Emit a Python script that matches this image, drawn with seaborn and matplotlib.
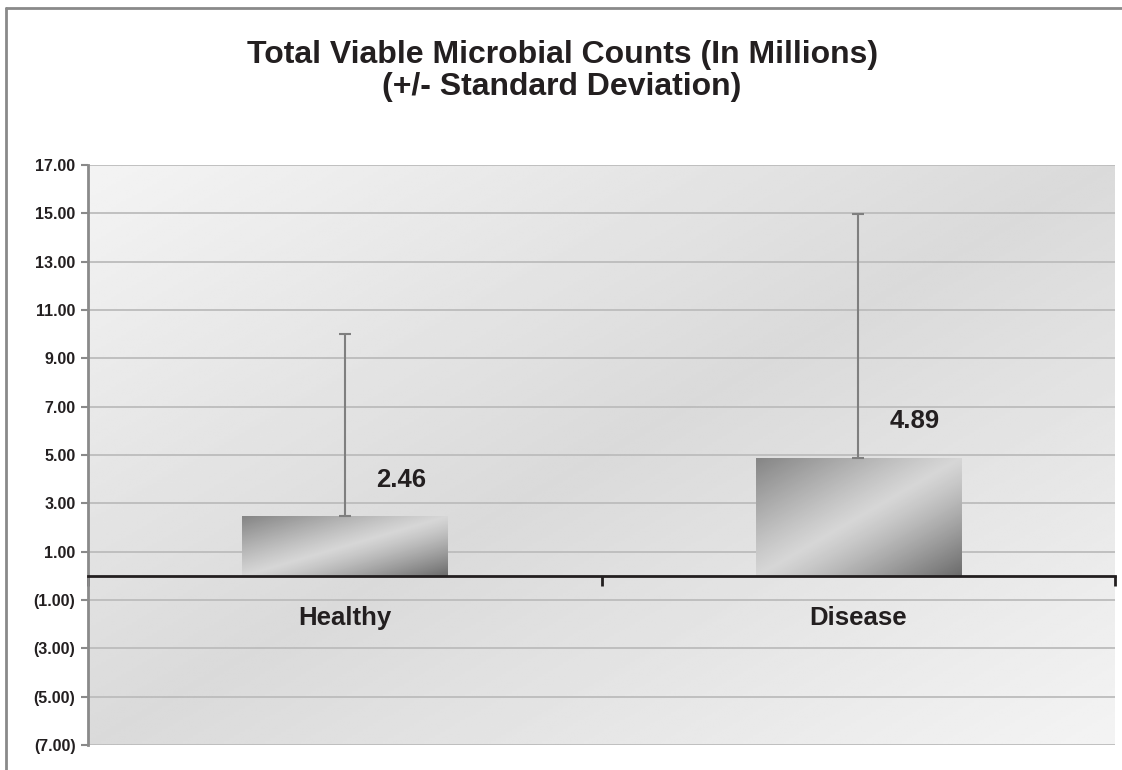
import numpy as np
import pandas as pd
import matplotlib
matplotlib.use('Agg')
import matplotlib.pyplot as plt
import seaborn as sns
from matplotlib.lines import Line2D
from matplotlib.ticker import FuncFormatter, FixedLocator

groups = ['Healthy', 'Disease']
means = [2.46, 4.89]
sds = [7.55, 10.08]
yticks = [-7, -5, -3, -1, 1, 3, 5, 7, 9, 11, 13, 15, 17]

df = pd.DataFrame({'group': groups, 'mean': means})

sns.set_theme(style='white')
plt.rcParams['font.family'] = ['Liberation Sans', 'DejaVu Sans']
plt.rcParams['font.weight'] = 'bold'

fig = plt.figure(figsize=(11.22, 7.7), dpi=100)
ax = fig.add_axes([88/1122, 25/770, 1027/1122, 580/770])

# plot area background: diagonal grey shading
yy, xx = np.mgrid[0:1:200j, 0:1:200j]
d = xx + (1 - yy)
bg = 0.955 - 0.10 * (1 - np.abs(d - 1))
ax.imshow(bg, cmap='gray', vmin=0, vmax=1, extent=(0, 1, 0, 1),
          transform=ax.transAxes, origin='lower', aspect='auto', zorder=0,
          interpolation='bilinear')

sns.barplot(data=df, x='group', y='mean', color='#b0b0b0', width=0.4,
            errorbar=None, ax=ax, zorder=1, linewidth=0)

# gradient fill for each bar
for p in ax.patches:
    x0, y0 = p.get_x(), p.get_y()
    w, h = p.get_width(), p.get_height()
    v, u = np.mgrid[0:1:100j, 0:1:100j]
    dd = u + (1 - v)
    g = np.where(dd < 1, 0.84 - 0.32 * (1 - dd) ** 1.1, 0.84 - 0.42 * (dd - 1) ** 1.2)
    im = ax.imshow(g, cmap='gray', vmin=0, vmax=1, extent=(x0, x0 + w, y0, y0 + h),
                   origin='lower', aspect='auto', zorder=1.5, interpolation='bilinear')
    im.set_clip_path(p)

ax.errorbar(x=[0, 1], y=means, yerr=[[0, 0], sds], fmt='none', ecolor='#7f7f7f',
            elinewidth=1.5, capsize=4, capthick=1.5, zorder=3)

for i, m in enumerate(means):
    ax.text(i + 0.11, m + 1.5, f'{m:.2f}', ha='center', va='center',
            fontsize=18.5, fontweight='bold', color='#231f20', zorder=4)

ax.set_xlim(-0.5, 1.5)
ax.set_ylim(-7, 17)
ax.yaxis.set_major_locator(FixedLocator(yticks))
ax.yaxis.set_major_formatter(FuncFormatter(lambda v, _: f'({abs(v):.2f})' if v < 0 else f'{v:.2f}'))
ax.set_axisbelow(True)
ax.yaxis.grid(True, color='#bcbcbc', linewidth=1.3)
ax.xaxis.grid(False)
ax.set_xlabel('')
ax.set_ylabel('')

for s in ['top', 'right']:
    ax.spines[s].set_visible(False)
ax.spines['left'].set_color('#8a8a8a')
ax.spines['left'].set_linewidth(2)
ax.spines['bottom'].set_position(('data', 0))
ax.spines['bottom'].set_color('#231f20')
ax.spines['bottom'].set_linewidth(2)
ax.spines['bottom'].set_zorder(5)

ax.tick_params(axis='y', which='major', direction='out', length=5, width=1.5,
               color='#8a8a8a', labelsize=11.5, labelcolor='#231f20', pad=4, left=True)
ax.set_xticks([-0.5, 0.5, 1.5], minor=True)
ax.tick_params(axis='x', which='minor', direction='out', length=7, width=2,
               color='#231f20', bottom=True)
ax.tick_params(axis='x', which='major', length=0, labelsize=18.5,
               labelcolor='#231f20', pad=22)
for lab in ax.get_xticklabels() + ax.get_yticklabels():
    lab.set_fontweight('bold')

fig.text(0.501, 1 - 71/770, 'Total Viable Microbial Counts (In Millions)\n(+/- Standard Deviation)',
         ha='center', va='center', fontsize=23, fontweight='bold', color='#231f20',
         linespacing=1.05)

# outer frame (top and left edges)
fig.add_artist(Line2D([6/1122, 1], [1 - 8/770, 1 - 8/770], transform=fig.transFigure,
                      color='#8a8a8a', linewidth=2))
fig.add_artist(Line2D([6/1122, 6/1122], [0, 1 - 8/770], transform=fig.transFigure,
                      color='#8a8a8a', linewidth=2))

fig.savefig('out.png', dpi=100, facecolor='white')
